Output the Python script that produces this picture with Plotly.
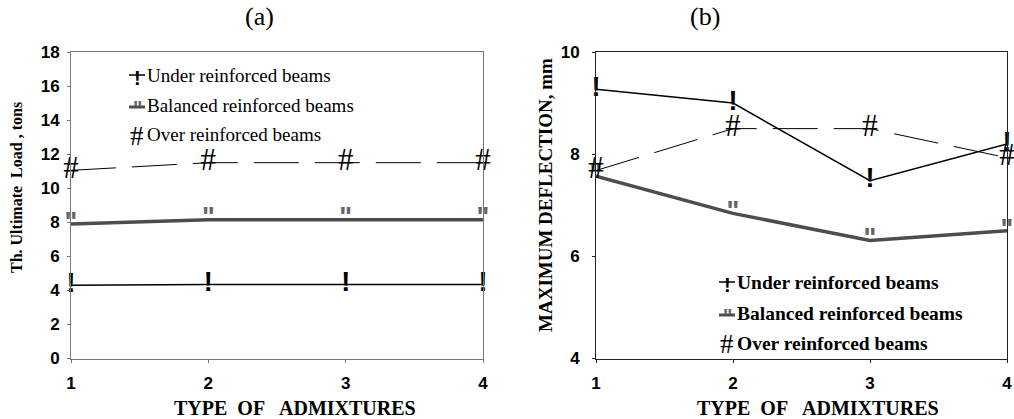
import plotly.graph_objects as go

# ---- data ----
admixture_types = [1, 2, 3, 4]
series_names = ["Under reinforced beams", "Balanced reinforced beams", "Over reinforced beams"]
series_glyphs = ["!", "\"", "#"]

load_under = [4.3, 4.35, 4.35, 4.35]
load_balanced = [7.9, 8.15, 8.15, 8.15]
load_over = [11.05, 11.5, 11.5, 11.5]

defl_under = [9.27, 9.0, 7.48, 8.2]
defl_balanced = [7.57, 6.84, 6.31, 6.5]
defl_over = [7.68, 8.5, 8.5, 7.93]

y_ticks_a = [0, 2, 4, 6, 8, 10, 12, 14, 16, 18]
y_ticks_b = [4, 6, 8, 10]

W, H = 1014, 419
SERIF = "Liberation Serif, Times New Roman, serif"
SANS = "Liberation Sans, Arial, sans-serif"

styles = [
    dict(color="#000000", width=1.5, dash="solid", tcolor="#000000"),
    dict(color="#4d4d4d", width=3.5, dash="solid", tcolor="#666666"),
    dict(color="#000000", width=1, dash="45px,16px", tcolor="#000000"),
]

fig = go.Figure()

def add_series(ys, idx, xa, ya):
    s = styles[idx]
    if idx < 2:
        tf = dict(family=SANS, size=27, color=s["tcolor"], weight="bold")
    else:
        tf = dict(family=SERIF, size=31, color=s["tcolor"])
    fig.add_trace(go.Scatter(
        x=admixture_types, y=ys, mode="lines+text",
        text=[series_glyphs[idx]] * len(ys),
        textposition="middle center",
        textfont=tf,
        line=dict(color=s["color"], width=s["width"], dash=s["dash"]),
        name=series_names[idx], showlegend=False, cliponaxis=False,
        hoverinfo="skip",
        xaxis=xa, yaxis=ya,
    ))

for i, ys in enumerate([load_under, load_balanced, load_over]):
    add_series(ys, i, "x", "y")
for i, ys in enumerate([defl_under, defl_balanced, defl_over]):
    add_series(ys, i, "x2", "y2")

def px(x):
    return x / W

def py(y):
    return 1 - y / H

ydom = [py(358.5), py(52)]
axis_common = dict(showline=True, mirror=True, showgrid=False, zeroline=False,
                   ticks="outside", ticklen=3, ticklabeloverflow="allow", automargin=False,
                   tickfont=dict(family=SANS, size=17, color="#000000", weight="bold"))

fig.update_layout(
    width=W, height=H, autosize=False,
    margin=dict(l=0, r=0, t=0, b=0, pad=0, autoexpand=False),
    paper_bgcolor="white", plot_bgcolor="white",
    xaxis=dict(domain=[px(71), px(483)], range=[1, 4], tickvals=admixture_types,
               linecolor="#777777", tickcolor="#777777", ticklabelstandoff=6, anchor="y",
               **axis_common),
    yaxis=dict(domain=ydom, range=[0, 18], tickvals=y_ticks_a, anchor="x",
               linecolor="#777777", tickcolor="#777777", ticklabelstandoff=4, **axis_common),
    xaxis2=dict(domain=[px(596), px(1007)], range=[1, 4], tickvals=admixture_types,
                linecolor="#222222", tickcolor="#222222", ticklabelstandoff=6, anchor="y2",
                **axis_common),
    yaxis2=dict(domain=ydom, range=[4, 10], tickvals=y_ticks_b, anchor="x2",
                linecolor="#222222", tickcolor="#222222", ticklabelstandoff=9, **axis_common),
)

ann = []
# panel titles
ann.append(dict(x=px(259), y=py(17), text="(a)", font=dict(family=SERIF, size=26, color="#000")))
ann.append(dict(x=px(705), y=py(17), text="(b)", font=dict(family=SERIF, size=26, color="#000")))
# axis titles
for cx in (295, 818):
    ann.append(dict(x=px(cx), y=py(408), text="TYPE&nbsp; OF&nbsp;&nbsp; ADMIXTURES",
                    font=dict(family=SERIF, size=20, color="#000", weight="bold")))
ann.append(dict(x=px(16), y=py(188), text="Th. Ultimate&nbsp; Load , tons", textangle=-90,
                font=dict(family=SERIF, size=16, color="#000", weight="bold")))
ann.append(dict(x=px(545), y=py(195), text="MAXIMUM DEFLECTION, mm", textangle=-90,
                font=dict(family=SERIF, size=19, color="#000", weight="bold")))

shapes = []

def legend(x0, ys, bold, size):
    for i, yy in enumerate(ys):
        s = styles[i]
        if i < 2:
            ly = yy + (0 if i == 0 else 2)
            shapes.append(dict(type="line", xref="paper", yref="paper",
                               x0=px(x0), x1=px(x0 + 16), y0=py(ly), y1=py(ly),
                               line=dict(color=s["color"], width=1.5 if i == 0 else 3)))
        if i == 0:
            gf = dict(family=SANS, size=20, color=s["tcolor"], weight="bold")
            gy = yy + 3
        elif i == 1:
            gf = dict(family=SANS, size=20, color=s["tcolor"], weight="bold")
            gy = yy + 3
        else:
            gf = dict(family=SERIF, size=27, color=s["tcolor"])
            gy = yy + 1
        ann.append(dict(x=px(x0 + 8), y=py(gy), text=series_glyphs[i], font=gf))
        ann.append(dict(x=px(x0 + 16), y=py(yy), text=series_names[i], xanchor="left",
                        font=dict(family=SERIF, size=size, color="#000",
                                  weight="bold" if bold else "normal")))

legend(129, [75, 105, 135], False, 19)
legend(719, [282, 313, 343], True, 19.5)

for a in ann:
    a.setdefault("xref", "paper")
    a.setdefault("yref", "paper")
    a.setdefault("showarrow", False)
    a.setdefault("xanchor", "center")
    a.setdefault("yanchor", "middle")

fig.update_layout(annotations=ann, shapes=shapes, hovermode=False)
fig.write_html("out.html", config={"displayModeBar": False},
               post_script="document.body.style.margin='0';")
